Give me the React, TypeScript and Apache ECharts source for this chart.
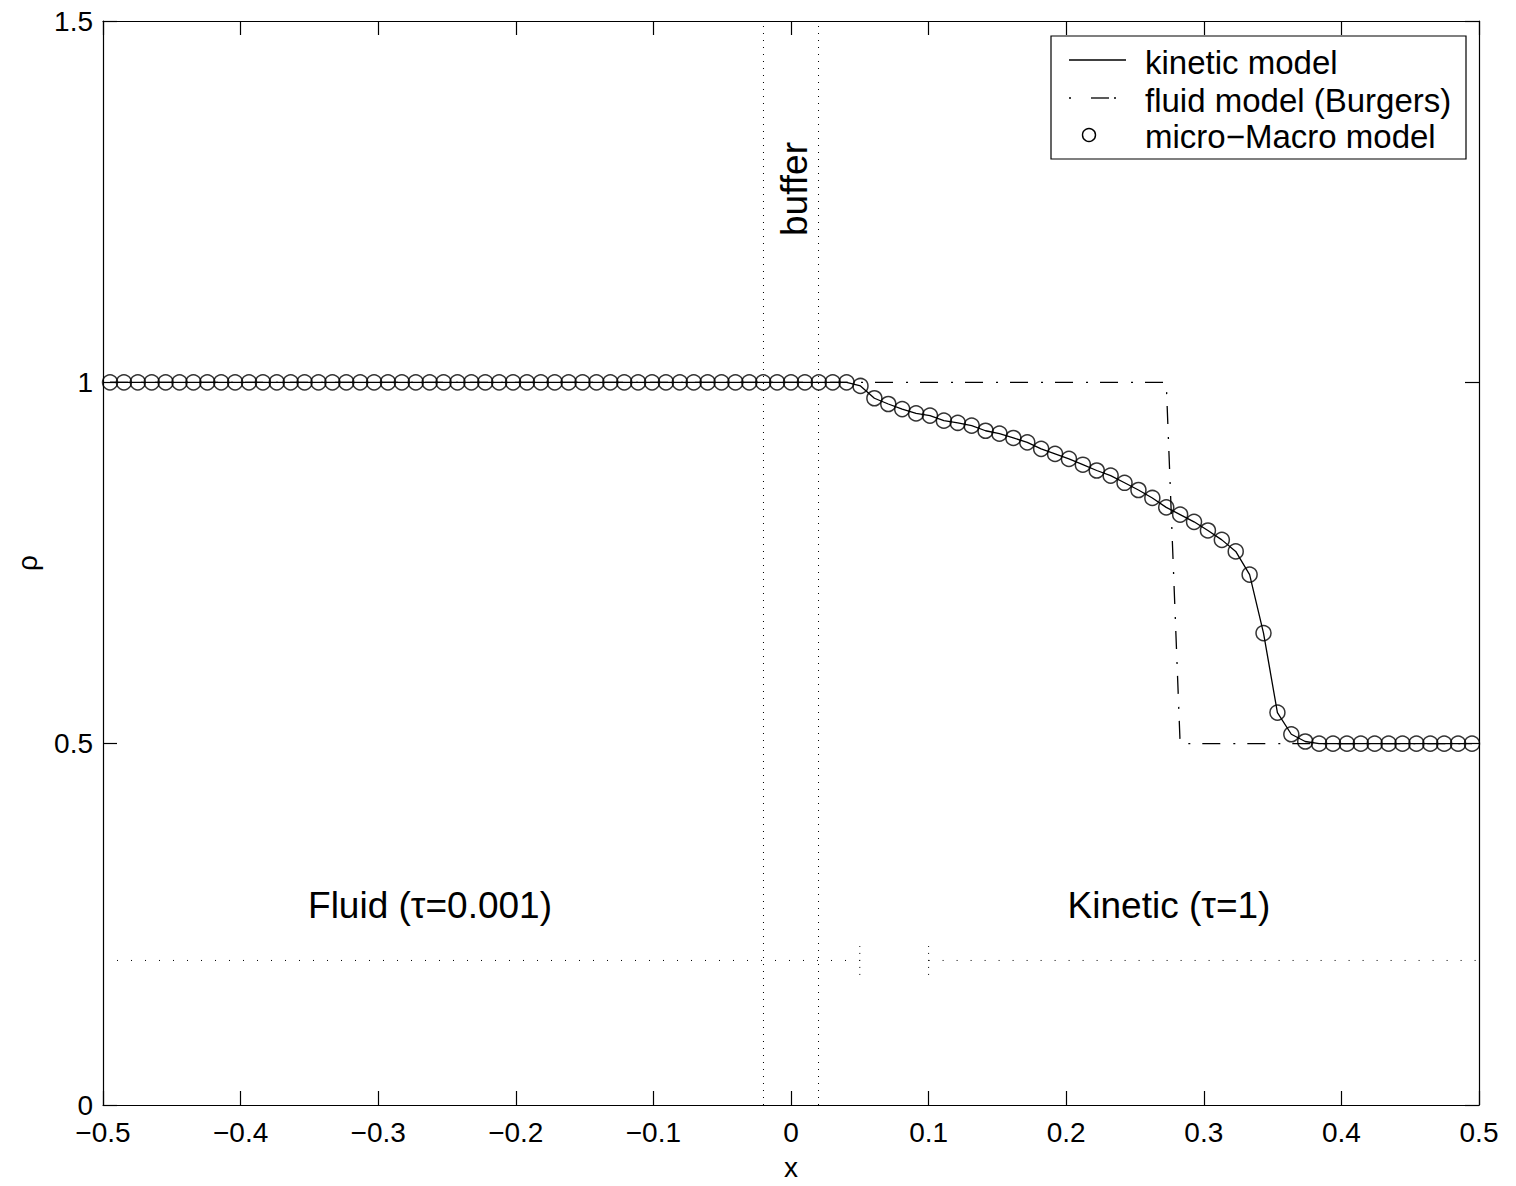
import React, { useEffect, useRef } from "react";
import * as echarts from "echarts";

// grid points (cell centres) shared by all three models
const xGrid = [
  -0.4949, -0.4848, -0.4747, -0.4646, -0.4545, -0.4444, -0.4343, -0.4242, -0.4141, -0.404,
  -0.3939, -0.3838, -0.3737, -0.3636, -0.3535, -0.3434, -0.3333, -0.3232, -0.3131, -0.303,
  -0.2929, -0.2828, -0.2727, -0.2626, -0.2525, -0.2424, -0.2323, -0.2222, -0.2121, -0.202,
  -0.1919, -0.1818, -0.1717, -0.1616, -0.1515, -0.1414, -0.1313, -0.1212, -0.1111, -0.101,
  -0.0909, -0.0808, -0.0707, -0.0606, -0.0505, -0.0404, -0.0303, -0.0202, -0.0101, 0.0,
  0.0101, 0.0202, 0.0303, 0.0404, 0.0505, 0.0606, 0.0707, 0.0808, 0.0909, 0.101,
  0.1111, 0.1212, 0.1313, 0.1414, 0.1515, 0.1616, 0.1717, 0.1818, 0.1919, 0.202,
  0.2121, 0.2222, 0.2323, 0.2424, 0.2525, 0.2626, 0.2727, 0.2828, 0.2929, 0.303,
  0.3131, 0.3232, 0.3333, 0.3434, 0.3535, 0.3636, 0.3737, 0.3838, 0.3939, 0.404,
  0.4141, 0.4242, 0.4343, 0.4444, 0.4545, 0.4646, 0.4747, 0.4848, 0.4949,
];

const kineticRho = [
  1, 1, 1, 1, 1, 1, 1, 1, 1, 1,
  1, 1, 1, 1, 1, 1, 1, 1, 1, 1,
  1, 1, 1, 1, 1, 1, 1, 1, 1, 1,
  1, 1, 1, 1, 1, 1, 1, 1, 1, 1,
  1, 1, 1, 1, 1, 1, 1, 1, 1, 1,
  1, 1, 1, 1, 0.995, 0.978, 0.97, 0.963, 0.957, 0.954,
  0.947, 0.944, 0.94, 0.933, 0.929, 0.923, 0.917, 0.908, 0.901, 0.894,
  0.886, 0.878, 0.871, 0.861, 0.851, 0.84, 0.827, 0.817, 0.807, 0.795,
  0.782, 0.766, 0.734, 0.653, 0.543, 0.513, 0.503, 0.5, 0.5, 0.5,
  0.5, 0.5, 0.5, 0.5, 0.5, 0.5, 0.5, 0.5, 0.5,
];

const microMacroRho = [
  1, 1, 1, 1, 1, 1, 1, 1, 1, 1,
  1, 1, 1, 1, 1, 1, 1, 1, 1, 1,
  1, 1, 1, 1, 1, 1, 1, 1, 1, 1,
  1, 1, 1, 1, 1, 1, 1, 1, 1, 1,
  1, 1, 1, 1, 1, 1, 1, 1, 1, 1,
  1, 1, 1, 1, 0.995, 0.978, 0.97, 0.963, 0.957, 0.954,
  0.947, 0.944, 0.94, 0.933, 0.929, 0.923, 0.917, 0.908, 0.901, 0.894,
  0.886, 0.878, 0.871, 0.861, 0.851, 0.84, 0.827, 0.817, 0.807, 0.795,
  0.782, 0.766, 0.734, 0.653, 0.543, 0.513, 0.503, 0.5, 0.5, 0.5,
  0.5, 0.5, 0.5, 0.5, 0.5, 0.5, 0.5, 0.5, 0.5,
];

const fluidRho = [
  1, 1, 1, 1, 1, 1, 1, 1, 1, 1,
  1, 1, 1, 1, 1, 1, 1, 1, 1, 1,
  1, 1, 1, 1, 1, 1, 1, 1, 1, 1,
  1, 1, 1, 1, 1, 1, 1, 1, 1, 1,
  1, 1, 1, 1, 1, 1, 1, 1, 1, 1,
  1, 1, 1, 1, 1, 1, 1, 1, 1, 1,
  1, 1, 1, 1, 1, 1, 1, 1, 1, 1,
  1, 1, 1, 1, 1, 1, 1, 0.5, 0.5, 0.5,
  0.5, 0.5, 0.5, 0.5, 0.5, 0.5, 0.5, 0.5, 0.5, 0.5,
  0.5, 0.5, 0.5, 0.5, 0.5, 0.5, 0.5, 0.5, 0.5,
];

const bufferEdges = [-0.02, 0.02];
const zoneLineY = 0.2;
const zoneSegments = [
  [-0.5, 0.05],
  [0.1, 0.5],
];
const zoneMarksX = [0.05, 0.1];
const zoneMarkSpan = [0.18, 0.22];

const xRange = [-0.5, 0.5];
const xStep = 0.1;
const yRange = [0, 1.5];
const yStep = 0.5;

const legendLabels = ["kinetic model", "fluid model (Burgers)", "micro\u2212Macro model"];
const regionLabels = ["Fluid (\u03c4=0.001)", "Kinetic (\u03c4=1)"];
const bufferLabel = "buffer";

const FONT = "'Liberation Sans', Arial, Helvetica, sans-serif";

export default function App() {
  const ref = useRef<HTMLDivElement>(null);

  useEffect(() => {
    if (!ref.current) return;
    const chart = echarts.init(ref.current, undefined, { renderer: "svg" });

    const fmtX = (v: number) => {
      const r = Math.round(v * 10) / 10;
      return r < 0 ? "\u2212" + String(-r) : String(r);
    };
    const fmtY = (v: number) => String(Math.round(v * 10) / 10);

    const dotted = (w: number, gap: number) => ({
      color: "#000",
      width: w,
      type: [1, gap] as number[],
      cap: "butt" as const,
    });

    const axisCommon = {
      type: "value" as const,
      axisLine: { show: true, onZero: false, lineStyle: { color: "#000", width: 1.2 } },
      axisTick: { show: true, inside: true, length: 14, lineStyle: { color: "#000", width: 1.2 } },
      splitLine: { show: false },
    };

    const series: any[] = [
      {
        name: legendLabels[0],
        type: "line",
        data: xGrid.map((x, i) => [x, kineticRho[i]]),
        showSymbol: false,
        symbol: "none",
        lineStyle: { color: "#000", width: 1.3 },
        z: 3,
        silent: true,
      },
      {
        name: legendLabels[1],
        type: "line",
        data: xGrid.map((x, i) => [x, fluidRho[i]]),
        showSymbol: false,
        symbol: "none",
        lineStyle: { color: "#000", width: 1.3, type: [18, 13, 2, 12], cap: "butt" },
        z: 2,
        silent: true,
      },
      {
        name: legendLabels[2],
        type: "scatter",
        data: xGrid.map((x, i) => [x, microMacroRho[i]]),
        symbol: "circle",
        symbolSize: 15,
        itemStyle: { color: "rgba(0,0,0,0)", borderColor: "#000", borderWidth: 1.5 },
        z: 4,
        silent: true,
      },
    ];

    bufferEdges.forEach((bx) => {
      series.push({
        type: "line",
        data: [
          [bx, yRange[0]],
          [bx, yRange[1]],
        ],
        symbol: "none",
        lineStyle: dotted(1, 6),
        silent: true,
        z: 1,
      });
    });
    zoneSegments.forEach((seg) => {
      series.push({
        type: "line",
        data: [
          [seg[0], zoneLineY],
          [seg[1], zoneLineY],
        ],
        symbol: "none",
        lineStyle: dotted(1, 13),
        silent: true,
        z: 1,
      });
    });
    zoneMarksX.forEach((mx) => {
      series.push({
        type: "line",
        data: [
          [mx, zoneMarkSpan[0]],
          [mx, zoneMarkSpan[1]],
        ],
        symbol: "none",
        lineStyle: dotted(1, 6),
        silent: true,
        z: 1,
      });
    });

    const legendGraphic: any[] = [
      {
        type: "rect",
        shape: { x: 1051, y: 36, width: 415, height: 123 },
        style: { fill: "#fff", stroke: "#000", lineWidth: 1.2 },
        z: 100,
      },
      {
        type: "line",
        shape: { x1: 1069, y1: 60, x2: 1126, y2: 60 },
        style: { stroke: "#000", lineWidth: 1.3 },
        z: 101,
      },
      {
        type: "line",
        shape: { x1: 1069, y1: 98, x2: 1071, y2: 98 },
        style: { stroke: "#000", lineWidth: 1.3 },
        z: 101,
      },
      {
        type: "line",
        shape: { x1: 1091, y1: 98, x2: 1109, y2: 98 },
        style: { stroke: "#000", lineWidth: 1.3 },
        z: 101,
      },
      {
        type: "line",
        shape: { x1: 1114, y1: 98, x2: 1116, y2: 98 },
        style: { stroke: "#000", lineWidth: 1.3 },
        z: 101,
      },
      {
        type: "circle",
        shape: { cx: 1089, cy: 135, r: 6.5 },
        style: { fill: "none", stroke: "#000", lineWidth: 1.4 },
        z: 101,
      },
    ];
    const legendTextY = [62, 100, 136];
    legendLabels.forEach((t, i) => {
      legendGraphic.push({
        type: "text",
        x: 1145,
        y: legendTextY[i],
        style: {
          text: t,
          fontSize: 33,
          fontFamily: FONT,
          fill: "#000",
          align: "left",
          verticalAlign: "middle",
        },
        z: 101,
      });
    });

    const annotationGraphic: any[] = [
      {
        type: "text",
        x: 430,
        y: 905,
        style: { text: regionLabels[0], fontSize: 37, fontFamily: FONT, fill: "#000", align: "center", verticalAlign: "middle" },
      },
      {
        type: "text",
        x: 1169,
        y: 905,
        style: { text: regionLabels[1], fontSize: 37, fontFamily: FONT, fill: "#000", align: "center", verticalAlign: "middle" },
      },
      {
        type: "text",
        x: 794,
        y: 189,
        rotation: Math.PI / 2,
        style: { text: bufferLabel, fontSize: 37, fontFamily: FONT, fill: "#000", align: "center", verticalAlign: "middle" },
      },
    ];

    chart.setOption({
      animation: false,
      backgroundColor: "#fff",
      textStyle: { fontFamily: FONT, color: "#000" },
      grid: { left: 103, right: 37, top: 21, bottom: 80, containLabel: false },
      xAxis: [
        {
          ...axisCommon,
          position: "bottom",
          min: xRange[0],
          max: xRange[1],
          interval: xStep,
          axisLabel: { formatter: fmtX, fontSize: 28, lineHeight: 22, color: "#000", margin: 16, fontFamily: FONT },
          name: "x",
          nameLocation: "middle",
          nameGap: 48,
          nameTextStyle: { fontSize: 28, color: "#000", fontFamily: FONT },
        },
        {
          ...axisCommon,
          position: "top",
          min: xRange[0],
          max: xRange[1],
          interval: xStep,
          axisLabel: { show: false },
        },
      ],
      yAxis: [
        {
          ...axisCommon,
          position: "left",
          min: yRange[0],
          max: yRange[1],
          interval: yStep,
          axisLabel: { formatter: fmtY, fontSize: 28, lineHeight: 16, color: "#000", margin: 10, fontFamily: FONT },
          name: "\u03c1",
          nameLocation: "middle",
          nameGap: 62,
          nameRotate: 90,
          nameTextStyle: { fontSize: 28, color: "#000", fontFamily: FONT },
        },
        {
          ...axisCommon,
          position: "right",
          min: yRange[0],
          max: yRange[1],
          interval: yStep,
          axisLabel: { show: false },
        },
      ],
      series,
      graphic: [...annotationGraphic, ...legendGraphic],
    });

    return () => chart.dispose();
  }, []);

  return (
    <div
      ref={ref}
      style={{ position: "fixed", left: 0, top: 0, width: 1516, height: 1186, background: "#fff" }}
    />
  );
}
